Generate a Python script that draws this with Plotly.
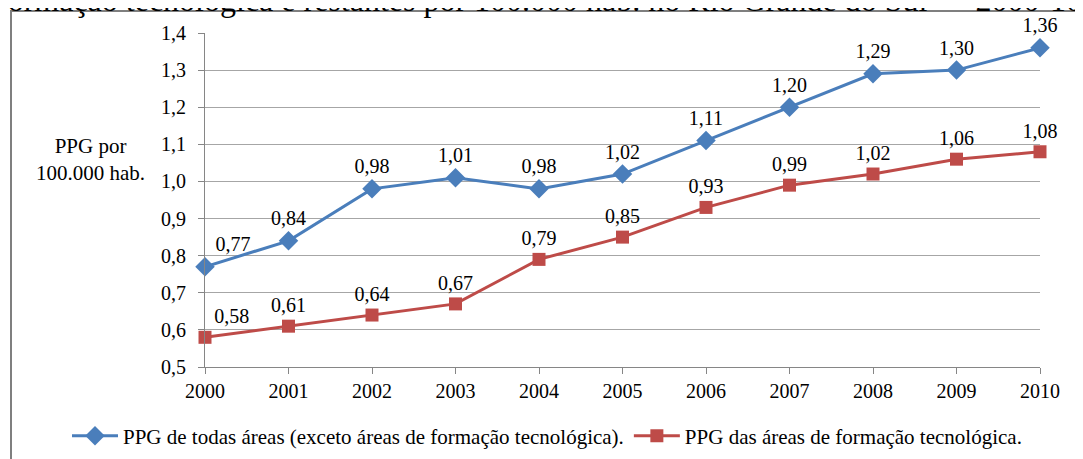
import plotly.graph_objects as go

years = [2000, 2001, 2002, 2003, 2004, 2005, 2006, 2007, 2008, 2009, 2010]
ppg_todas = [0.77, 0.84, 0.98, 1.01, 0.98, 1.02, 1.11, 1.20, 1.29, 1.30, 1.36]
ppg_tec = [0.58, 0.61, 0.64, 0.67, 0.79, 0.85, 0.93, 0.99, 1.02, 1.06, 1.08]
name_todas = "PPG de todas áreas (exceto áreas de formação tecnológica)."
name_tec = "PPG das áreas de formação tecnológica."
y_ticks = [0.5, 0.6, 0.7, 0.8, 0.9, 1.0, 1.1, 1.2, 1.3, 1.4]
title_text = "formação tecnológica e restantes por 100.000 hab. no Rio Grande do Sul — 2000-10"

FONT = "Times New Roman, Liberation Serif, DejaVu Serif, serif"
BLUE = "#4A7EBB"
RED = "#BE4B48"

OFF = 8  # page body margin
W, H = 1083 - OFF, 459 - OFF
# target page pixel positions of plot area
PL, PR, PT, PB = 205, 1040, 33, 367
L, R, T, B = PL - OFF, PR - OFF, PT - OFF, PB - OFF


def px(x):
    return (x - PL) / (PR - PL)


def py(y):
    return 1 - (y - PT) / (PB - PT)


pos_first = ["top right"] + ["top center"] * (len(years) - 1)

fig = go.Figure()
fig.add_trace(go.Scatter(
    x=years, y=ppg_todas, name=name_todas, mode="lines+markers+text",
    line=dict(color=BLUE, width=3),
    marker=dict(symbol="diamond", size=15, color=BLUE),
    texttemplate="%{y:.2f}", textposition=pos_first,
    textfont=dict(family=FONT, size=20, color="#000000"),
    cliponaxis=False,
))
fig.add_trace(go.Scatter(
    x=years, y=ppg_tec, name=name_tec, mode="lines+markers+text",
    line=dict(color=RED, width=3),
    marker=dict(symbol="square", size=13, color=RED),
    texttemplate="%{y:.2f}", textposition=pos_first,
    textfont=dict(family=FONT, size=20, color="#000000"),
    cliponaxis=False,
))

fig.update_layout(
    width=W, height=H,
    margin=dict(l=L, r=W - R, t=T, b=H - B, autoexpand=False),
    paper_bgcolor="white", plot_bgcolor="white",
    separators=",.",
    font=dict(family=FONT, size=19, color="#000000"),
    showlegend=True,
    legend=dict(orientation="h", xref="paper", yref="paper",
                x=px(67), y=py(436),
                xanchor="left", yanchor="middle",
                font=dict(family=FONT, size=21), itemwidth=46, tracegroupgap=0),
    xaxis=dict(range=[2000, 2010], tickvals=years, ticktext=[str(y) for y in years],
               showgrid=False, showline=True, linecolor="#868686", linewidth=1,
               ticks="outside", ticklen=6, tickcolor="#868686", zeroline=False,
               tickfont=dict(family=FONT, size=20)),
    yaxis=dict(range=[0.5, 1.4], tickvals=y_ticks, tickformat=".1f",
               showgrid=True, gridcolor="#A6A6A6", gridwidth=1,
               showline=True, linecolor="#868686", linewidth=1,
               ticks="outside", ticklen=6, tickcolor="#868686", zeroline=False,
               ticklabelstandoff=8,
               tickfont=dict(family=FONT, size=20)),
)

fig.add_annotation(text="PPG por<br>100.000 hab.", xref="paper", yref="paper",
                   x=px(90), y=py(159), xanchor="center", yanchor="middle",
                   showarrow=False, font=dict(family=FONT, size=21))

fig.add_annotation(text=title_text,
                   xref="paper", yref="paper", x=px(-5), y=py(20),
                   xanchor="left", yanchor="bottom", showarrow=False,
                   font=dict(family=FONT, size=32))

fig.add_shape(type="rect", xref="paper", yref="paper",
              x0=px(11), y0=py(480), x1=px(1120), y1=py(11),
              line=dict(color="#7F7F7F", width=2), fillcolor="rgba(0,0,0,0)")

fig.write_html("out.html")
